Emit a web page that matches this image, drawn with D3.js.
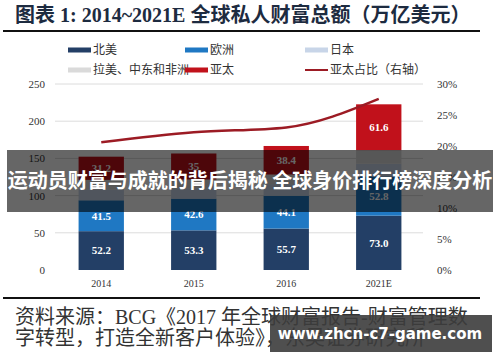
<!DOCTYPE html>
<html lang="zh">
<head>
  <meta charset="utf-8">
  <title>全球私人财富总额</title>
  <script src="https://cdn.jsdelivr.net/npm/d3@7"></script>
  <style>
  body { margin: 0; background: #fff; }
  svg { display: block; font-family: "Noto Sans CJK SC", "Noto Sans", sans-serif; }
  .num { font-family: "Liberation Serif", "DejaVu Serif", serif; }
  </style>
</head>
<body>
  <script>
  // data (japan / latam hidden under banner, estimated)
  var categories = ["2014", "2015", "2016", "2021E"];
  var northAmerica = [52.2, 53.3, 55.7, 73.0];
  var europe = [41.5, 42.6, 44.1, 52.8];
  var japan = [14.5, 14.0, 15.6, 17.0];
  var latam = [12.9, 11.7, 12.9, 18.3];
  var asiaPac = [31.2, 35, 38.4, 61.6];
  var apShare = [20.6, 22.2, 23.0, 27.6];   // %, right axis
  var northLabels = ["52.2", "53.3", "55.7", "73.0"];
  var europeLabels = ["41.5", "42.6", "44.1", "52.8"];
  var asiaLabels = ["31.2", "35", "38.4", "61.6"];
  var leftTicks = [0, 50, 100, 150, 200, 250];
  var rightTicks = [0, 5, 10, 15, 20, 25, 30];

  var series = [
    {name: "北美", values: northAmerica, color: "#233f66", labels: northLabels},
    {name: "欧洲", values: europe, color: "#1f78c3", labels: europeLabels},
    {name: "日本", values: japan, color: "#c8d5e8", labels: null},
    {name: "拉美、中东和非洲", values: latam, color: "#dadada", labels: null},
    {name: "亚太", values: asiaPac, color: "#c1111b", labels: asiaLabels}
  ];

  var width = 500, height = 362;

  var svg = d3.select("body").append("svg")
    .attr("width", width)
    .attr("height", height);

  var x = d3.scaleBand()
    .domain(categories)
    .range([55, 425])
    .paddingInner(0.51)
    .paddingOuter(0.255);

  var y = d3.scaleLinear().domain([0, 250]).range([270, 84]);
  var y2 = d3.scaleLinear().domain([0, 30]).range([270, 84]);

  // title
  svg.append("text")
    .attr("x", 15)
    .attr("y", 22)
    .attr("fill", "#1d2b40")
    .style("font-size", "20px")
    .style("font-weight", "bold")
    .style("font-family", "'Liberation Serif', 'Noto Sans CJK SC', serif")
    .text("图表 1: 2014~2021E 全球私人财富总额（万亿美元）");

  svg.append("line")
    .attr("x1", 3).attr("x2", 480)
    .attr("y1", 31).attr("y2", 31)
    .attr("stroke", "#111")
    .attr("stroke-width", 2);

  // legend
  var legendItems = series.map(function(s) { return {name: s.name, color: s.color, type: "rect"}; });
  legendItems.push({name: "亚太占比（右轴）", color: "#9c1b24", type: "line"});
  var legendX = [68, 185, 305];
  var legendY = [50, 70];

  var legend = svg.append("g").selectAll("g")
    .data(legendItems)
    .join("g")
    .attr("transform", function(d, i) {
      return "translate(" + legendX[i % 3] + "," + legendY[Math.floor(i / 3)] + ")";
    });

  legend.append("rect")
    .attr("x", 0)
    .attr("y", function(d) { return d.type == "line" ? -1 : -2.5; })
    .attr("width", 23)
    .attr("height", function(d) { return d.type == "line" ? 2 : 5; })
    .attr("fill", function(d) { return d.color; });

  legend.append("text")
    .attr("x", 25)
    .attr("dy", "0.35em")
    .attr("fill", "#333")
    .style("font-size", "12px")
    .text(function(d) { return d.name; });

  // grid
  svg.append("g").selectAll("line")
    .data(leftTicks.slice(1))
    .join("line")
    .attr("x1", 55).attr("x2", 423)
    .attr("y1", function(d) { return y(d); })
    .attr("y2", function(d) { return y(d); })
    .attr("stroke", "#dcdcdc")
    .attr("stroke-width", 1);

  // axes
  var leftAxis = svg.append("g")
    .attr("class", "num")
    .attr("transform", "translate(55,0)")
    .call(d3.axisLeft(y).tickValues(leftTicks).tickSize(0).tickPadding(10));

  var rightAxis = svg.append("g")
    .attr("class", "num")
    .attr("transform", "translate(425,0)")
    .call(d3.axisRight(y2).tickValues(rightTicks).tickSize(0).tickPadding(12)
      .tickFormat(function(d) { return d + "%"; }));

  var bottomAxis = svg.append("g")
    .attr("class", "num")
    .attr("transform", "translate(0,270)")
    .call(d3.axisBottom(x).tickSize(0).tickPadding(10));

  [leftAxis, rightAxis, bottomAxis].forEach(function(a) {
    a.select(".domain").remove();
    a.selectAll("text")
      .attr("fill", "#333")
      .style("font-size", "11px")
      .style("font-family", "'Liberation Serif', serif");
  });
  bottomAxis.selectAll("text").style("font-size", "10px");

  // stacked bars
  var base = categories.map(function() { return 0; });
  series.forEach(function(s) {
    var segs = categories.map(function(c, i) {
      var seg = {cat: c, y0: base[i], y1: base[i] + s.values[i], label: s.labels ? s.labels[i] : null};
      base[i] += s.values[i];
      return seg;
    });

    svg.append("g").selectAll("rect")
      .data(segs)
      .join("rect")
      .attr("x", function(d) { return x(d.cat); })
      .attr("width", x.bandwidth())
      .attr("y", function(d) { return y(d.y1); })
      .attr("height", function(d) { return y(d.y0) - y(d.y1); })
      .attr("fill", s.color);

    if (s.labels) {
      svg.append("g").selectAll("text")
        .data(segs)
        .join("text")
        .attr("x", function(d) { return x(d.cat) + x.bandwidth() / 2; })
        .attr("y", function(d) { return y((d.y0 + d.y1) / 2); })
        .attr("dy", "0.35em")
        .attr("text-anchor", "middle")
        .attr("fill", "#fff")
        .style("font-size", "11px")
        .style("font-weight", "bold")
        .style("font-family", "'Liberation Serif', serif")
        .text(function(d) { return d.label; });
    }
  });

  // share line on right axis
  var line = d3.line()
    .x(function(d, i) { return x(categories[i]) + x.bandwidth() / 2; })
    .y(function(d) { return y2(d); })
    .curve(d3.curveMonotoneX);

  svg.append("path")
    .datum(apShare)
    .attr("d", line)
    .attr("fill", "none")
    .attr("stroke", "#9c1b24")
    .attr("stroke-width", 2.5);

  // bottom rule and source
  svg.append("line")
    .attr("x1", 3).attr("x2", 480)
    .attr("y1", 298).attr("y2", 298)
    .attr("stroke", "#111")
    .attr("stroke-width", 2);

  var src = svg.append("g")
    .attr("fill", "#333")
    .style("font-size", "20px")
    .style("font-family", "'Liberation Serif', 'Noto Sans CJK SC', serif");

  src.append("text")
    .attr("x", 15).attr("y", 324)
    .text("资料来源：BCG《2017 年全球财富报告-财富管理数");
  src.append("text")
    .attr("x", 15).attr("y", 345)
    .text("字转型，打造全新客户体验》，东吴证券研究所");

  // overlay banner
  svg.append("rect")
    .attr("x", 7).attr("y", 150)
    .attr("width", 486).attr("height", 62)
    .attr("fill", "#000")
    .attr("fill-opacity", 0.6);

  svg.append("text")
    .attr("x", 250).attr("y", 181)
    .attr("dy", "0.35em")
    .attr("text-anchor", "middle")
    .attr("fill", "#fff")
    .style("font-size", "20px")
    .style("font-weight", "bold")
    .text("运动员财富与成就的背后揭秘 全球身价排行榜深度分析");

  // watermark
  svg.append("rect")
    .attr("x", 270).attr("y", 315)
    .attr("width", 222).attr("height", 37)
    .attr("fill", "#3c3c3c")
    .attr("fill-opacity", 0.9);

  svg.append("text")
    .attr("x", 380).attr("y", 334)
    .attr("dy", "0.35em")
    .attr("text-anchor", "middle")
    .attr("fill", "#fff")
    .style("font-size", "15px")
    .style("font-weight", "bold")
    .style("font-family", "'DejaVu Sans', sans-serif")
    .text("www.zhcn-c7-game.com");
  </script>
</body>
</html>
